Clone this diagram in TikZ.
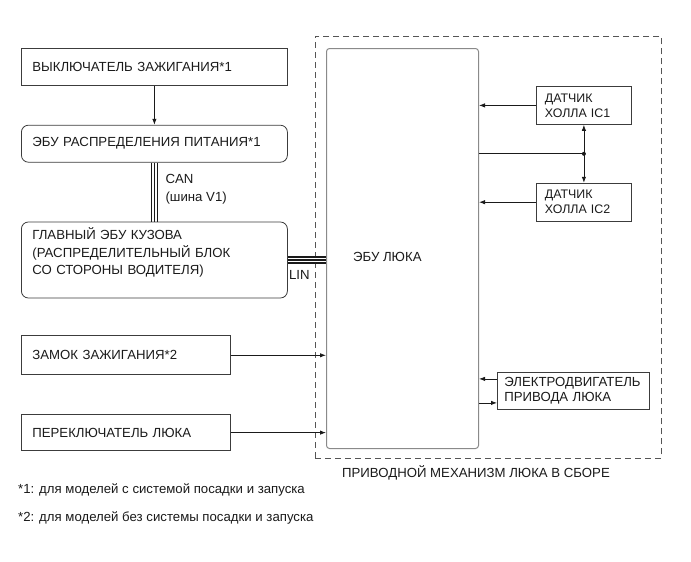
\documentclass[tikz,border=0pt]{standalone}
\usepackage{fontspec}
\setmainfont{Liberation Sans}
\usetikzlibrary{arrows.meta,positioning}
\definecolor{SunInk}{HTML}{1A1A1A}
\definecolor{SunEdge}{HTML}{3C3C3C}
\definecolor{SunGrey}{HTML}{8A8A8A}
\definecolor{SunDash}{HTML}{555555}

\begin{document}
\begin{tikzpicture}[
  x=1pt,y=-1pt,
  node distance=39pt,
  box/.style={draw=SunEdge,line width=0.8pt,minimum width=266pt,minimum height=37pt,text width=244pt,inner xsep=11pt,inner ysep=0pt,align=left,text=SunInk,font=\fontsize{13.2}{17.5}\selectfont},
  rbox/.style={box,rounded corners=7pt},
  inbox/.style={box,minimum width=209pt,text width=187pt},
  sbox/.style={draw=SunEdge,line width=0.8pt,minimum height=37pt,inner ysep=0pt,align=left,text=SunInk,font=\fontsize{13.2}{15.5}\selectfont},
  hallbox/.style={sbox,minimum width=95pt,text width=78pt,inner xsep=8.5pt,minimum height=38pt,font=\fontsize{12.4}{15}\selectfont},
  ecubox/.style={draw=SunGrey,line width=1pt,rounded corners=3pt,minimum width=152pt,minimum height=400pt,inner sep=0pt},
  frame/.style={draw=SunDash,line width=0.7pt,dash pattern=on 6pt off 4pt,minimum width=346pt,minimum height=422pt,inner sep=0pt},
  lbl/.style={inner sep=0pt,align=left,text=SunInk,font=\fontsize{13.2}{18}\selectfont},
  arrow/.style={-{Latex[length=6pt,width=4.4pt]},line width=0.8pt,draw=SunInk},
  bus/.style={line width=1.1pt,draw=SunInk}
]
  \useasboundingbox (0,0) rectangle (691,562);
  % left column
  \node[box,anchor=north west] (ignsw) at (21,48) {ВЫКЛЮЧАТЕЛЬ ЗАЖИГАНИЯ*1};
  \node[rbox,below=39pt of ignsw] (pwrecu) {ЭБУ РАСПРЕДЕЛЕНИЯ ПИТАНИЯ*1};
  \node[rbox,minimum height=76pt,text depth=52pt,below=59pt of pwrecu] (bodyecu) {ГЛАВНЫЙ ЭБУ КУЗОВА\\(РАСПРЕДЕЛИТЕЛЬНЫЙ БЛОК\\СО СТОРОНЫ ВОДИТЕЛЯ)};
  \node[inbox,minimum height=39pt,below right=37pt and 0pt of bodyecu.south west] (ignlock) {ЗАМОК ЗАЖИГАНИЯ*2};
  \node[inbox,minimum height=36pt,below right=39pt and 0pt of ignlock.south west] (roofsw) {ПЕРЕКЛЮЧАТЕЛЬ ЛЮКА};
  % sunroof drive assembly
  \node[frame,anchor=north west] (assy) at (315,36) {};
  \node[ecubox,anchor=north west] (sunecu) at (326,48) {};
  \node[lbl,anchor=west] (sunecutxt) at ([xshift=27pt,yshift=-8pt]sunecu.west) {ЭБУ ЛЮКА};
  \node[hallbox,anchor=north west] (hall1) at (536,86) {ДАТЧИК\\ХОЛЛА IC1};
  \node[hallbox,below=58pt of hall1] (hall2) {ДАТЧИК\\ХОЛЛА IC2};
  \node[sbox,minimum width=152pt,text width=138pt,inner xsep=7pt,anchor=north west] (motor) at (497,372) {ЭЛЕКТРОДВИГАТЕЛЬ\\ПРИВОДА ЛЮКА};
  \node[lbl,anchor=west] (assylbl) at ([xshift=27pt,yshift=-14pt]assy.south west) {ПРИВОДНОЙ МЕХАНИЗМ ЛЮКА В СБОРЕ};
  % bus labels
  \node[lbl,anchor=north west] (canlbl) at ([xshift=11pt,yshift=-11pt]pwrecu.south) {CAN\\(шина V1)};
  \node[lbl,anchor=north west] (linlbl) at ([xshift=1pt,yshift=-10pt]bodyecu.east) {LIN};
  % notes
  \node[lbl,anchor=west] (note1) at (18,490) {*1: для моделей с системой посадки и запуска};
  \node[lbl,anchor=west] (note2) at (18,518) {*2: для моделей без системы посадки и запуска};

  \draw[arrow] (ignsw) -- (pwrecu);
  \foreach \s in {-3.2,0,3.2}
    \draw[bus] ([xshift=\s pt]pwrecu.south) -- ([xshift=\s pt]bodyecu.north);
  \foreach \s in {-3,0,3}
    \draw[bus] ([yshift=\s pt]bodyecu.east) -- ([yshift=\s pt]bodyecu.east -| sunecu.west);
  \draw[arrow] (ignlock.east) -- (ignlock.east -| sunecu.west);
  \draw[arrow] (roofsw.east) -- (roofsw.east -| sunecu.west);
  \draw[arrow] (hall1.west) -- (hall1.west -| sunecu.east);
  \draw[arrow] (hall2.west) -- (hall2.west -| sunecu.east);
  \path (hall1.south) -- (hall2.north) coordinate[midway] (hjn);
  \draw[line width=0.8pt,draw=SunInk] (hjn -| sunecu.east) -- (hjn);
  \fill[SunInk] (hjn) circle (2pt);
  \draw[arrow] (hjn) -- (hall1.south);
  \draw[arrow] (hjn) -- (hall2.north);
  \coordinate (mtin) at ([yshift=12pt]motor.west);
  \coordinate (mtout) at ([yshift=-12pt]motor.west);
  \draw[arrow] (mtin) -- (mtin -| sunecu.east);
  \draw[arrow] (mtout -| sunecu.east) -- (mtout);
\end{tikzpicture}
\end{document}
